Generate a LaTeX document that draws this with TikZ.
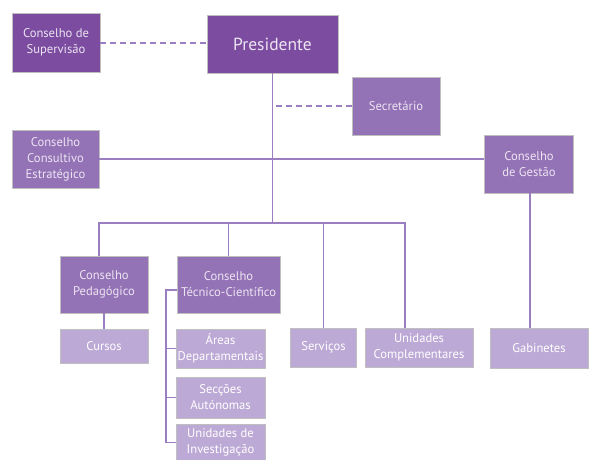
\documentclass[tikz,border=0pt]{standalone}
\usepackage{fontspec}
\setmainfont{PT Sans}
\usepackage{tikz}
\usetikzlibrary{positioning}

\definecolor{darkp}{HTML}{7B4C9F}
\definecolor{midp}{HTML}{9373B5}
\definecolor{lightp}{HTML}{BDA9D6}
\definecolor{linep}{HTML}{9B7DC2}
\definecolor{textp}{HTML}{EDE4F3}

\begin{document}
\begin{tikzpicture}[x=1pt, y=-1pt,
	box/.style={rectangle, draw=black!25, line width=.5pt, inner sep=0pt, align=center, text=textp, font=\fontsize{12.6}{16}\selectfont},
	topbox/.style={box, fill=darkp},
	midbox/.style={box, fill=midp},
	subbox/.style={box, fill=lightp, text=white},
	link/.style={draw=linep, line width=1.2pt},
	duty/.style={link, dash pattern=on 6pt off 4pt}]
	\useasboundingbox (0,0) rectangle (589,460);
	% top level
	\node (superv) [topbox, minimum width=88pt, minimum height=59pt] at (56,42.5) {Conselho de\\Supervis\~ao};
	\node (pres) [topbox, minimum width=131pt, minimum height=58pt, font=\fontsize{17.5}{20}\selectfont] at (272.5,44) {Presidente};
	\node (secr) [midbox, minimum width=88pt, minimum height=58pt] at (396,106) {Secret\'ario};
	\node (cce) [midbox, minimum width=87pt, minimum height=58pt] at (55.5,159) {Conselho\\Consultivo\\Estrat\'egico};
	\node (gestao) [midbox, minimum width=89pt, minimum height=58pt] at (529,164) {Conselho\\de Gest\~ao};
	% councils
	\node (pedag) [midbox, minimum width=88pt, minimum height=57pt] at (104,284.5) {Conselho\\Pedag\'ogico};
	\node (tecnico) [midbox, minimum width=103pt, minimum height=57pt] at (228.5,284.5) {Conselho\\T\'ecnico-Cient\'ifico};
	% units
	\node (cursos) [subbox, minimum width=88pt, minimum height=34pt] at (104,346) {Cursos};
	\node (areas) [subbox, minimum width=89pt, minimum height=39pt] at (220.5,348.5) {\'Areas\\Departamentais};
	\node (seccoes) [subbox, minimum width=89pt, minimum height=41pt] at (220.5,397.5) {Sec\c{c}\~oes\\Aut\'onomas};
	\node (unidinv) [subbox, minimum width=89pt, minimum height=37pt] at (220.5,442.5) {Unidades de\\Investiga\c{c}\~ao};
	\node (servicos) [subbox, minimum width=66pt, minimum height=39pt] at (323.5,347.5) {Servi\c{c}os};
	\node (unidcomp) [subbox, minimum width=108pt, minimum height=39pt] at (419,347.5) {Unidades\\Complementares};
	\node (gabinetes) [subbox, minimum width=98pt, minimum height=40pt] at (539,348) {Gabinetes};

	\coordinate (busl) at (99,223);
	\coordinate (busr) at (405,223);
	\coordinate (brk) at (166,290);

	\draw[duty] (superv.east |- 0,43) -- (pres.west |- 0,43);
	\draw[link] (pres.south) -- (pres.south |- busl);
	\draw[duty] (secr.west) -- (secr.west -| pres.south);
	\draw[link] (cce.east) -- (cce.east -| gestao.west);
	\draw[link] (gestao.south -| 530,0) -- (gabinetes.north -| 530,0);
	\draw[link] (pedag.north -| busl) -- (busl) -- (busr) -- (unidcomp.north -| busr);
	\draw[link] (tecnico.north) -- (tecnico.north |- busl);
	\draw[link] (servicos.north) -- (servicos.north |- busl);
	\draw[link] (pedag.south) -- (cursos.north);
	\draw[link] (tecnico.west |- brk) -- (brk) |- (unidinv.west);
	\foreach \n in {areas, seccoes}
		\draw[link] (brk |- \n.west) -- (\n.west);
\end{tikzpicture}
\end{document}
